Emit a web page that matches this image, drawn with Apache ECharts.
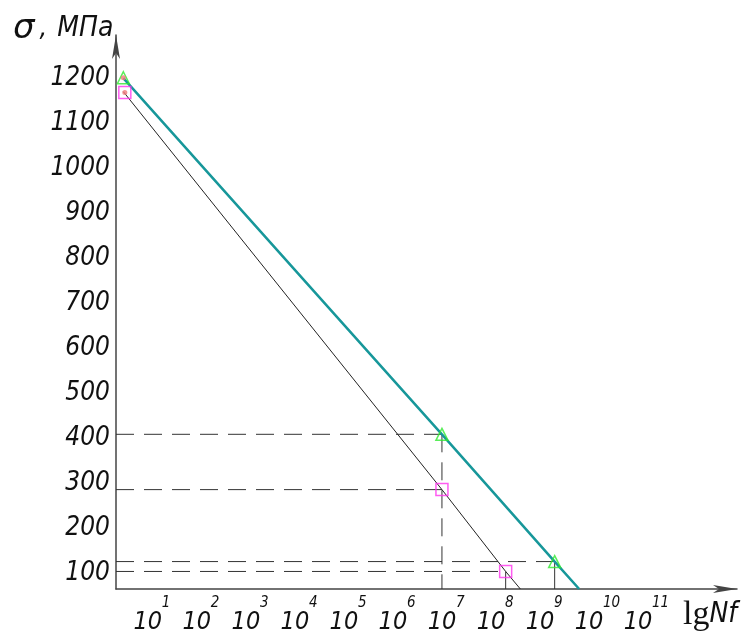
<!DOCTYPE html>
<html>
<head>
<meta charset="utf-8">
<script src="https://cdn.jsdelivr.net/npm/echarts@6/dist/echarts.min.js"></script>
<style>
  html, body { margin: 0; padding: 0; background: #fff; }
  #chart { width: 744px; height: 633px; }
</style>
</head>
<body>
<div id="chart"></div>
<script>
// x is the exponent k of N = 10^k, y is stress in MPa
const xTicks = [1, 2, 3, 4, 5, 6, 7, 8, 9, 10, 11];
const yTicks = [100, 200, 300, 400, 500, 600, 700, 800, 900, 1000, 1100, 1200];

const greenLine = [[0.5, 1200], [7, 408], [9.3, 125], [9.8, 64]];
const blackLine = [[0.5, 1170], [7, 285], [8.3, 103], [8.6, 64]];

const greenMarks = [[0.5, 1201], [7, 408], [9.3, 125]];
const magentaMarks = [[0.53, 1168], [7, 285], [8.3, 103]];
const startDots = [[0.5, 1201], [0.53, 1168]];

const xMin = 0.35, xMax = 13.02;
const yMin = 64, yMax = 1296;

// dashed guides from a point to the stress axis, then down to the N axis
const dashedGuides = [
    [[xMin, 408], [7, 408]],
    [[xMin, 285], [7, 285]],
    [[xMin, 125], [9.3, 125]],
    [[xMin, 103], [8.3, 103]],
    [[7, 408], [7, yMin]]
];
const solidGuides = [
    [[8.3, 103], [8.3, yMin]],
    [[9.3, 125], [9.3, yMin]]
];

const labelFont = '"DejaVu Sans Condensed", "Liberation Sans", sans-serif';

const chart = echarts.init(document.getElementById('chart'));

const guideSeries = [];
dashedGuides.forEach(seg => guideSeries.push({
    type: 'line', data: seg, symbol: 'none', silent: true, z: 1,
    lineStyle: {color: '#333', width: 1, type: [18, 10]}
}));
solidGuides.forEach(seg => guideSeries.push({
    type: 'line', data: seg, symbol: 'none', silent: true, z: 1,
    lineStyle: {color: '#333', width: 1}
}));

const baseX = {
    type: 'value',
    position: 'bottom',
    min: xMin,
    max: xMax,
    splitLine: {show: false},
    axisTick: {show: false}
};

const option = {
    backgroundColor: '#fff',
    animation: false,
    grid: {left: 116, right: 7, top: 35, bottom: 44, containLabel: false, outerBoundsMode: 'none'},
    xAxis: [
        {
            ...baseX,
            axisLine: {
                lineStyle: {color: '#444', width: 1.5},
                symbol: ['none', 'arrow'],
                symbolSize: [6, 24]
            },
            axisLabel: {
                customValues: xTicks,
                margin: 21,
                hideOverlap: false,
                formatter: () => '10',
                fontFamily: labelFont,
                fontStyle: 'italic',
                fontSize: 25,
                color: '#111'
            }
        },
        {
            // exponents written as superscripts next to each "10"
            ...baseX,
            axisLine: {show: false},
            axisLabel: {
                customValues: xTicks,
                margin: 7,
                hideOverlap: false,
                align: 'left',
                padding: [0, 0, 0, 14],
                formatter: v => String(v),
                fontFamily: labelFont,
                fontStyle: 'italic',
                fontSize: 15,
                color: '#111'
            }
        }
    ],
    yAxis: {
        type: 'value',
        min: yMin,
        max: yMax,
        splitLine: {show: false},
        axisTick: {show: false},
        axisLine: {
            lineStyle: {color: '#444', width: 1.5},
            symbol: ['none', 'arrow'],
            symbolSize: [6, 24]
        },
        axisLabel: {
            customValues: yTicks,
            margin: 6,
            formatter: v => String(v),
            fontFamily: labelFont,
            fontStyle: 'italic',
            fontSize: 26,
            color: '#111'
        }
    },
    graphic: [
        {
            type: 'text', left: 13, top: 12,
            style: {
                text: '{g|σ}{c|,}{t|МПа}',
                rich: {
                    g: {fontFamily: 'DejaVu Sans', fontStyle: 'italic', fontSize: 34, fill: '#111'},
                    c: {fontFamily: labelFont, fontStyle: 'italic', fontSize: 27, fill: '#111', padding: [0, 10, 0, 5]},
                    t: {fontFamily: labelFont, fontStyle: 'italic', fontSize: 28, fill: '#111'}
                }
            }
        },
        {
            type: 'text', left: 683, top: 598,
            style: {
                text: '{l|lg}{n|Nf}',
                rich: {
                    l: {fontFamily: '"Liberation Serif", serif', fontSize: 34, fill: '#111'},
                    n: {fontFamily: labelFont, fontStyle: 'italic', fontSize: 28, fill: '#111'}
                }
            }
        }
    ],
    series: [
        ...guideSeries,
        {
            type: 'line', data: greenLine, symbol: 'none', z: 3,
            lineStyle: {color: '#17979a', width: 2.5}
        },
        {
            type: 'line', data: blackLine, symbol: 'none', z: 2,
            lineStyle: {color: '#222', width: 1}
        },
        {
            type: 'scatter', data: greenMarks, symbol: 'triangle', symbolSize: 12, z: 4,
            itemStyle: {color: 'rgba(0,0,0,0)', borderColor: '#2fe82f', borderWidth: 1.5}
        },
        {
            type: 'scatter', data: magentaMarks, symbol: 'rect', symbolSize: 12, z: 4,
            itemStyle: {color: 'rgba(0,0,0,0)', borderColor: '#ff33ee', borderWidth: 1.5}
        },
        {
            type: 'scatter', data: startDots, symbol: 'circle', symbolSize: 5, z: 5,
            itemStyle: {color: '#f07a7a'}
        }
    ]
};

chart.setOption(option);
</script>
</body>
</html>
